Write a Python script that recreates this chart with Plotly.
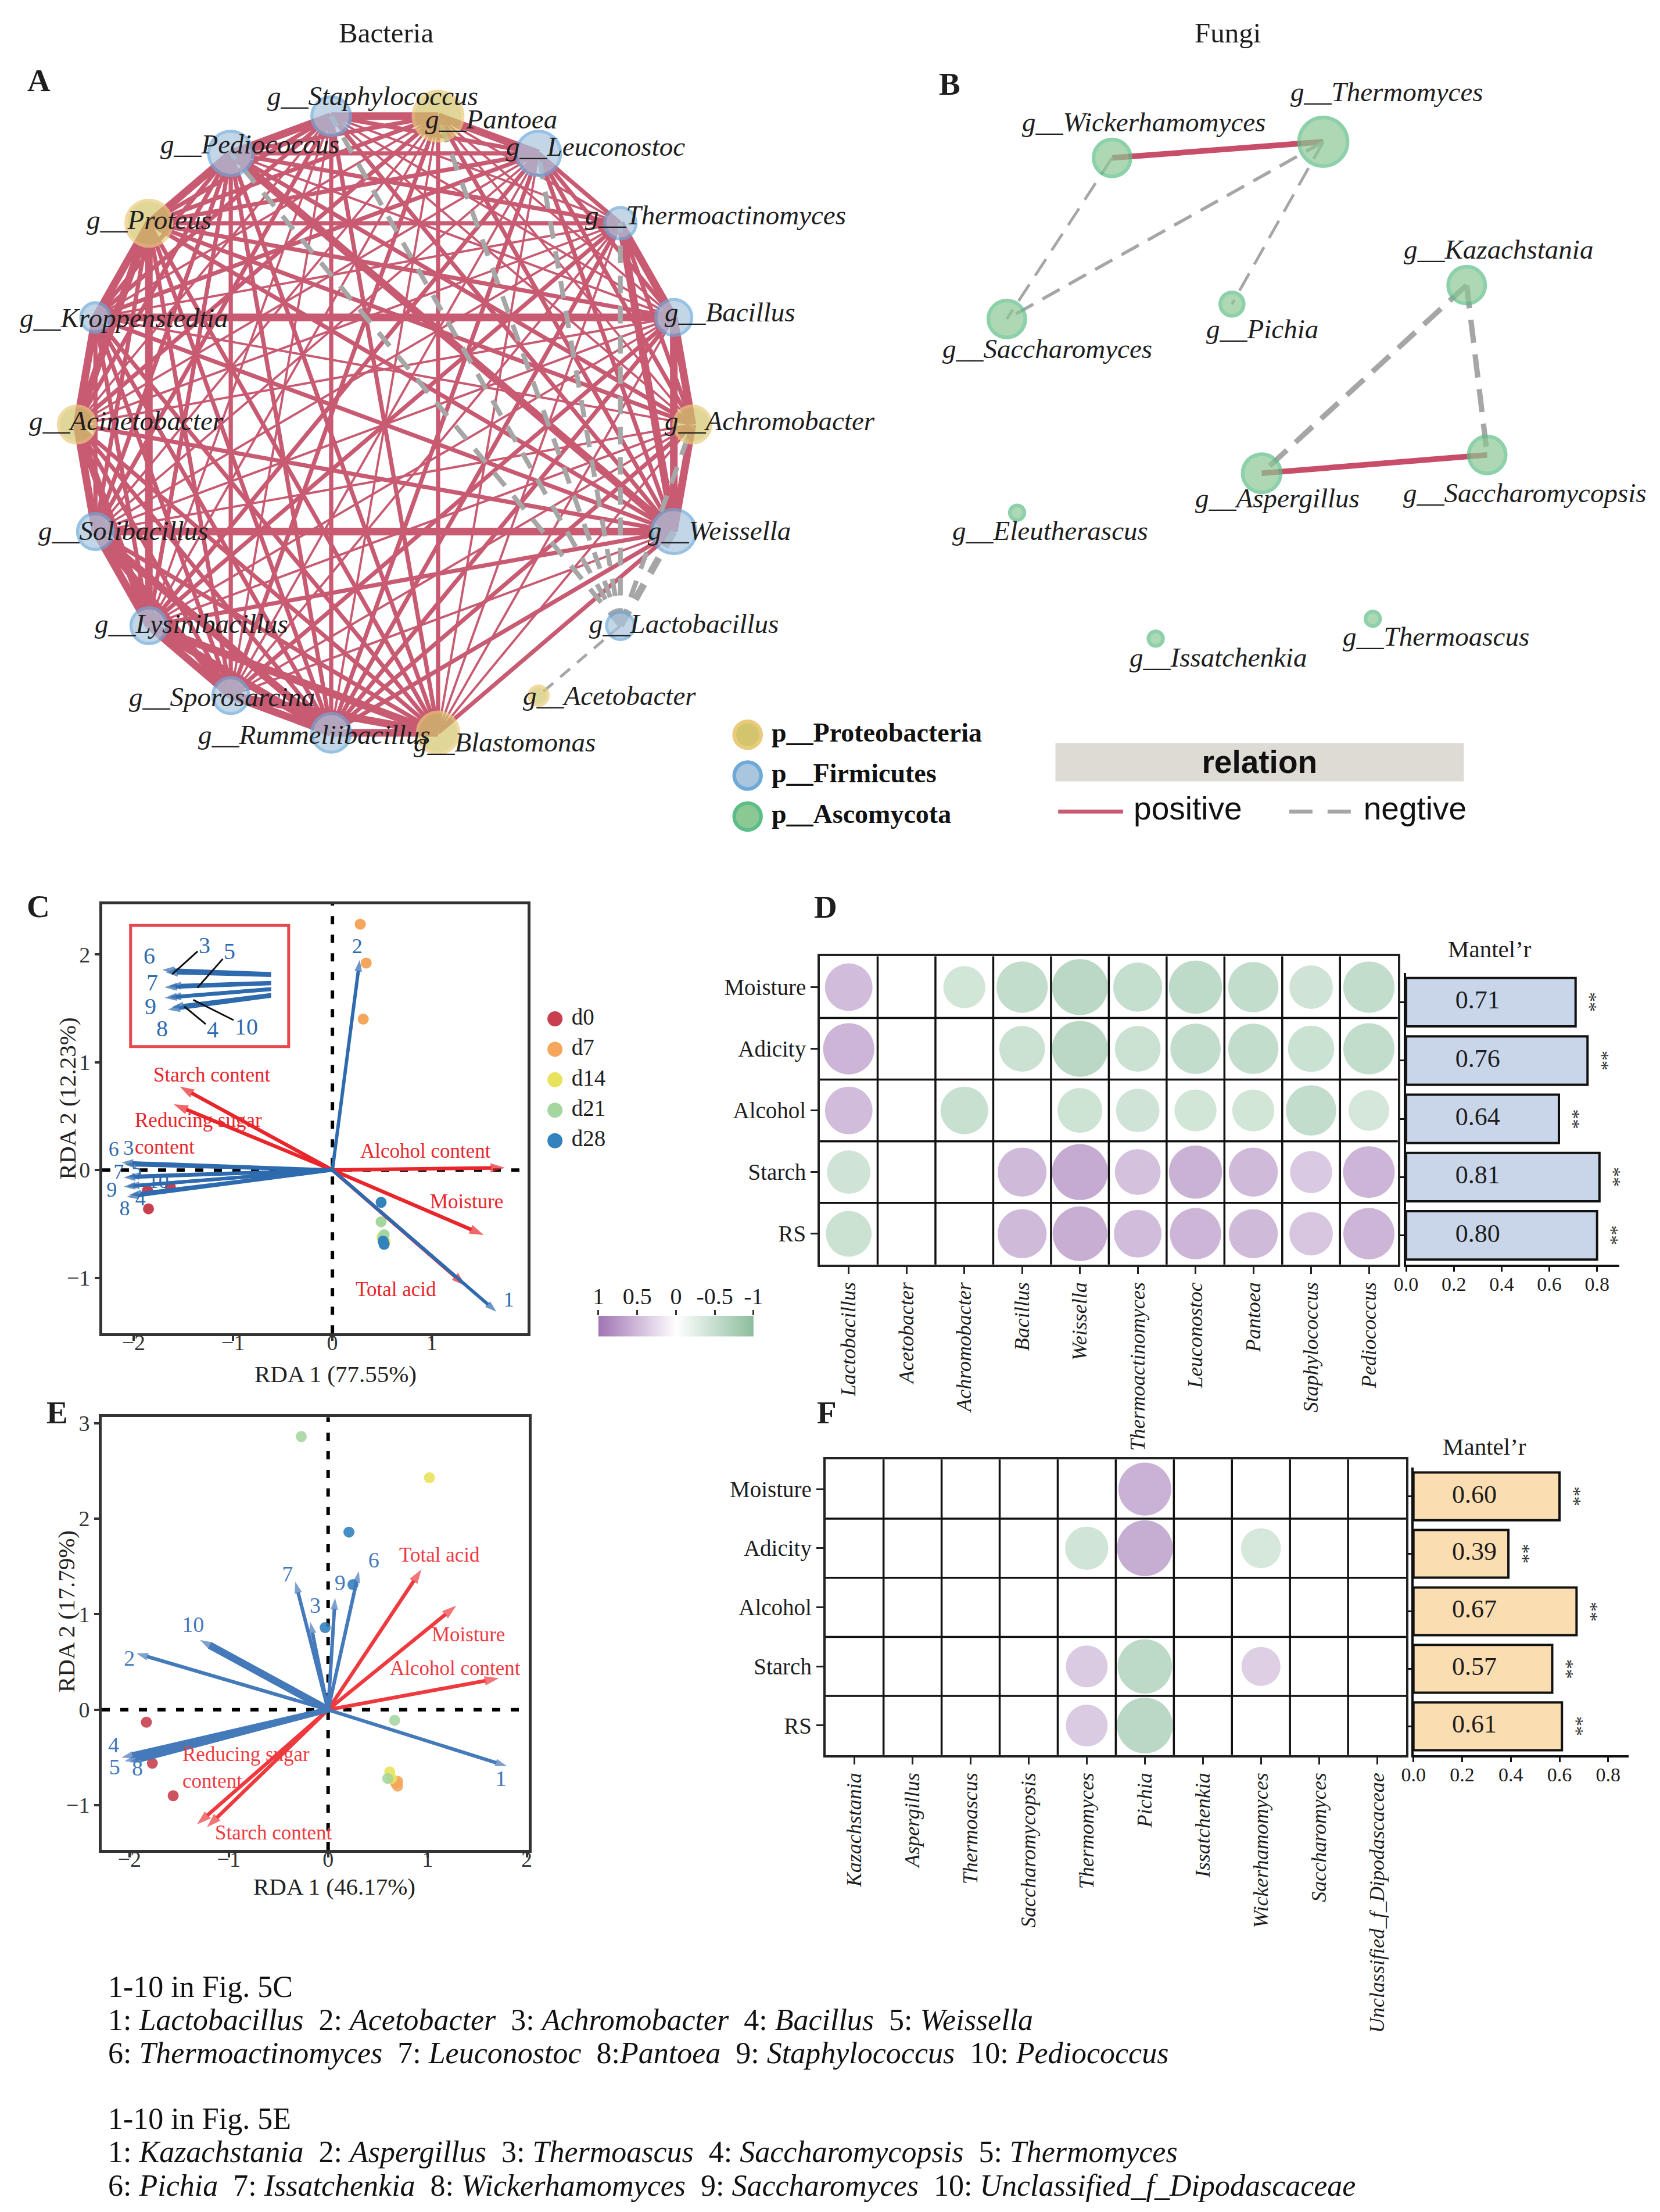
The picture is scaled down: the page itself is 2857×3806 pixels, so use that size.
import math
import plotly.graph_objects as go

# ============================ DATA ============================
# ---- A: bacterial co-occurrence network (circular layout order) ----
bac_genera = ["Achromobacter", "Bacillus", "Thermoactinomyces", "Leuconostoc", "Pantoea",
              "Staphylococcus", "Pediococcus", "Proteus", "Kroppenstedtia", "Acinetobacter",
              "Solibacillus", "Lysinibacillus", "Sporosarcina", "Rummeliibacillus", "Blastomonas",
              "Acetobacter", "Lactobacillus", "Weissella"]
bac_phylum = ["Proteobacteria", "Firmicutes", "Firmicutes", "Firmicutes", "Proteobacteria",
              "Firmicutes", "Firmicutes", "Proteobacteria", "Firmicutes", "Proteobacteria",
              "Firmicutes", "Firmicutes", "Firmicutes", "Firmicutes", "Proteobacteria",
              "Proteobacteria", "Firmicutes", "Firmicutes"]
bac_node_size = [28.4, 27.6, 24.4, 33.5, 37.4, 29.6, 33.5, 34.7, 22.9, 28.4,
                 27.6, 27.6, 27.6, 29.6, 31.5, 15.8, 21.7, 33.5]
# positive correlations among these genera, upper triangle, weight class 0-3
pos_group = ["Achromobacter", "Bacillus", "Thermoactinomyces", "Leuconostoc", "Pantoea",
             "Staphylococcus", "Pediococcus", "Proteus", "Kroppenstedtia", "Acinetobacter",
             "Solibacillus", "Lysinibacillus", "Sporosarcina", "Rummeliibacillus", "Blastomonas",
             "Weissella"]
pos_weight_rows = [
    "322112210111213",
    "32111231112213",
    "2112211121213",
    "322221121212",
    "32212112122",
    "3221211222",
    "322222223",
    "33232222",
    "3222222",
    "332222",
    "33323",
    "3332",
    "331",
    "32",
    "2",
]
neg_edges = [("Lactobacillus", "Pediococcus", 2), ("Lactobacillus", "Staphylococcus", 2),
             ("Lactobacillus", "Pantoea", 2), ("Lactobacillus", "Leuconostoc", 2),
             ("Lactobacillus", "Thermoactinomyces", 2), ("Lactobacillus", "Achromobacter", 2),
             ("Lactobacillus", "Weissella", 3), ("Lactobacillus", "Acetobacter", 1)]

# ---- B: fungal co-occurrence network ----
fun_genera = ["Wickerhamomyces", "Thermomyces", "Saccharomyces", "Pichia", "Kazachstania",
              "Aspergillus", "Saccharomycopsis", "Eleutherascus", "Issatchenkia", "Thermoascus"]
fun_layout_x = [-0.480, 0.096, -0.767, -0.153, 0.487, -0.072, 0.543, -0.739, -0.361, 0.231]
fun_layout_y = [0.688, 0.740, 0.169, 0.217, 0.278, -0.328, -0.269, -0.455, -0.861, -0.797]
fun_node_size = [28.8, 37.0, 28.8, 19.2, 28.8, 29.6, 28.8, 12.9, 12.9, 12.9]
fun_edges = [("Wickerhamomyces", "Thermomyces", "positive", 4.0),
             ("Wickerhamomyces", "Saccharomyces", "negative", 2.0),
             ("Thermomyces", "Saccharomyces", "negative", 2.3),
             ("Thermomyces", "Pichia", "negative", 2.0),
             ("Kazachstania", "Aspergillus", "negative", 3.8),
             ("Kazachstania", "Saccharomycopsis", "negative", 3.8),
             ("Aspergillus", "Saccharomycopsis", "positive", 4.0)]
phyla = ["Proteobacteria", "Firmicutes", "Ascomycota"]
relation_types = ["positive", "negtive"]

# ---- C: RDA, bacteria ----
sample_groups = ["d0", "d7", "d14", "d21", "d28"]
C_sample_x = [[-1.85, -1.86, -1.63], [0.28, 0.34, 0.31], [0.52, 0.50, 0.53], [0.49, 0.52, 0.51], [0.49, 0.52, 0.51]]
C_sample_y = [[-0.36, -0.19, -0.16], [2.28, 1.92, 1.40], [-0.65, -0.62, -0.67], [-0.48, -0.60, -0.63], [-0.30, -0.69, -0.66]]
C_species = ["Lactobacillus", "Acetobacter", "Achromobacter", "Bacillus", "Weissella",
             "Thermoactinomyces", "Leuconostoc", "Pantoea", "Staphylococcus", "Pediococcus"]
C_species_x = [1.65, 0.275, -2.09, -2.04, -2.06, -2.12, -2.10, -2.07, -2.10, -2.06]
C_species_y = [-1.315, 1.95, 0.05, -0.23, -0.06, 0.07, -0.07, -0.25, -0.155, -0.15]
env_vars = ["Starch content", "Reducing sugar content", "Alcohol content", "Moisture", "Total acid"]
C_env_x = [-1.536, -1.596, 1.735, 1.523, 1.342]
C_env_y = [0.774, 0.610, 0.021, -0.603, -1.075]
C_titles = ["RDA 1 (77.55%)", "RDA 2 (12.23%)"]

# ---- E: RDA, fungi ----
E_sample_x = [[-1.83, -1.77, -1.56], [0.70, 0.70, 0.68], [1.02, 0.62, 0.64], [-0.27, 0.67, 0.60], [0.21, 0.25, -0.03]]
E_sample_y = [[-0.13, -0.56, -0.90], [-0.75, -0.80, -0.77], [2.43, -0.65, -0.72], [2.86, -0.11, -0.72], [1.86, 1.31, 0.86]]
E_species = ["Kazachstania", "Aspergillus", "Thermoascus", "Saccharomycopsis", "Thermomyces",
             "Pichia", "Issatchenkia", "Wickerhamomyces", "Saccharomyces", "Unclassified_f_Dipodascaceae"]
E_species_x = [1.80, -1.93, -0.18, -2.08, -2.05, 0.31, -0.33, -2.00, 0.07, -1.29]
E_species_y = [-0.59, 0.59, 0.92, -0.50, -0.54, 1.45, 1.34, -0.55, 1.17, 0.73]
E_env_x = [-1.22, -1.32, 1.72, 1.29, 0.94]
E_env_y = [-1.23, -1.20, 0.33, 1.09, 1.47]
E_titles = ["RDA 1 (46.17%)", "RDA 2 (17.79%)"]

# ---- D / F: correlation heatmaps + Mantel r ----
env_rows = ["Moisture", "Adicity", "Alcohol", "Starch", "RS"]
D_genera = ["Lactobacillus", "Acetobacter", "Achromobacter", "Bacillus", "Weissella",
            "Thermoactinomyces", "Leuconostoc", "Pantoea", "Staphylococcus", "Pediococcus"]
D_r = [
    [0.68, None, -0.56, -0.76, -0.86, -0.71, -0.80, -0.74, -0.59, -0.76],
    [0.76, None, None, -0.64, -0.86, -0.64, -0.74, -0.74, -0.65, -0.76],
    [0.68, None, -0.68, None, -0.62, -0.59, -0.56, -0.56, -0.74, -0.53],
    [-0.59, None, None, 0.71, 0.86, 0.64, 0.80, 0.71, 0.56, 0.77],
    [-0.64, None, None, 0.71, 0.83, 0.68, 0.76, 0.71, 0.59, 0.76],
]
D_mantel = [0.71, 0.76, 0.64, 0.81, 0.80]
F_genera = ["Kazachstania", "Aspergillus", "Thermoascus", "Saccharomycopsis", "Thermomyces",
            "Pichia", "Issatchenkia", "Wickerhamomyces", "Saccharomyces", "Unclassified_f_Dipodascaceae"]
F_r = [
    [None, None, None, None, None, 0.79, None, None, None, None],
    [None, None, None, None, -0.58, 0.85, None, -0.51, None, None],
    [None, None, None, None, None, None, None, None, None, None],
    [None, None, None, None, 0.55, -0.82, None, 0.49, None, None],
    [None, None, None, None, 0.55, -0.85, None, None, None, None],
]
F_mantel = [0.60, 0.39, 0.67, 0.57, 0.61]
mantel_ticks = [0.0, 0.2, 0.4, 0.6, 0.8]
cbar_values = [1, 0.5, 0, -0.5, -1]

# ============================ STYLE / LAYOUT HELPERS ============================
W, H = 2857, 3806
DW, DH = 1177.0, 1568.0
S = W / DW
SERIF = "Liberation Serif, Times New Roman, serif"
SANS = "Liberation Sans, Arial, sans-serif"
INK = "#1e1e1e"
POS_RED = "#C85A72"
POS_RED_B = "#C74D69"
NEG_GRAY = "#A6A6A6"
PHY_FILL = {"Proteobacteria": "#D3C56D", "Firmicutes": "#A9C6DE", "Ascomycota": "#8CC894"}
PHY_RING = {"Proteobacteria": "#EACB7C", "Firmicutes": "#6DA9D9", "Ascomycota": "#5CBE86"}
GROUP_COL = ["#C8404F", "#F5A55C", "#E8E35C", "#A6D6A0", "#3282BD"]
CSCALE = [[0, "#8CBE9D"], [0.5, "#FFFFFF"], [1, "#A075B4"]]


def fx(X):
    return X / DW


def fy(Y):
    return 1.0 - Y / DH


def xdom(a, b):
    return [fx(a), fx(b)]


def ydom(top, bot):
    return [fy(bot), fy(top)]


def px(d):
    return d * S


fig = go.Figure()
axes = {}
annotations = []
shapes = []


def sfx(n):
    return "" if n == 1 else str(n)


def set_axes(n, xd, yd, xr, yr, xextra=None, yextra=None):
    s = sfx(n)
    xa = dict(domain=xd, range=xr, anchor="y" + s, visible=False, fixedrange=True,
              showgrid=False, zeroline=False)
    ya = dict(domain=yd, range=yr, anchor="x" + s, visible=False, fixedrange=True,
              showgrid=False, zeroline=False)
    if xextra:
        xa.update(xextra)
    if yextra:
        ya.update(yextra)
    axes["xaxis" + s] = xa
    axes["yaxis" + s] = ya


def ax(n):
    s = sfx(n)
    return dict(xaxis="x" + s, yaxis="y" + s)


def paper_text(X, Y, text, size, family=SERIF, color=INK, xanchor="center", angle=0):
    annotations.append(dict(x=fx(X), y=fy(Y), xref="paper", yref="paper", text=text,
                            showarrow=False, xanchor=xanchor, yanchor="middle", textangle=angle,
                            font=dict(family=family, size=size, color=color)))


def data_text(n, x, y, text, size, color, xanchor="center", family=SERIF):
    s = sfx(n)
    annotations.append(dict(x=x, y=y, xref="x" + s, yref="y" + s, text=text, showarrow=False,
                            xanchor=xanchor, yanchor="middle", align=xanchor if xanchor != "center" else "center",
                            font=dict(family=family, size=size, color=color)))


def arrow(n, x, y, color, width, head, clip=True):
    fig.add_trace(go.Scatter(x=[0, x], y=[0, y], mode="lines+markers",
                             line=dict(color=color, width=width),
                             marker=dict(symbol="arrow", size=[0, head], angleref="previous",
                                         color=color, line=dict(width=0)),
                             hoverinfo="skip", cliponaxis=clip, **ax(n)))


# ============================ TITLES / LETTERS ============================
paper_text(270.4, 20.1, "Bacteria", 49)
paper_text(867.2, 19.8, "Fungi", 49)
for letter, X, Y in [("A", 24.4, 53.8), ("B", 670.2, 56.4), ("C", 24.1, 639.3),
                     ("D", 582.0, 639.7), ("E", 37.3, 998.2), ("F", 583.0, 998.0)]:
    paper_text(X, Y, "<b>%s</b>" % letter, 55)

# ============================ PANEL A ============================
set_axes(1, xdom(3.2, 553.1), ydom(31.3, 575.0), [-1.22, 1.3], [-1.25, 1.2])
n_b = len(bac_genera)
bac_x = [math.cos(2 * math.pi * i / n_b) for i in range(n_b)]
bac_y = [math.sin(2 * math.pi * i / n_b) for i in range(n_b)]
bidx = {g: i for i, g in enumerate(bac_genera)}

pos_w = {1: px(1.6), 2: px(3.0), 3: px(5.4)}
edge_xy = {1: ([], []), 2: ([], []), 3: ([], [])}
for i, row in enumerate(pos_weight_rows):
    for k, ch in enumerate(row):
        w = int(ch)
        if w == 0:
            continue
        a = bidx[pos_group[i]]
        b = bidx[pos_group[i + 1 + k]]
        ex, ey = edge_xy[w]
        ex += [bac_x[a], bac_x[b], None]
        ey += [bac_y[a], bac_y[b], None]
for w in (1, 2, 3):
    ex, ey = edge_xy[w]
    fig.add_trace(go.Scatter(x=ex, y=ey, mode="lines", line=dict(color=POS_RED, width=pos_w[w]),
                             hoverinfo="skip", **ax(1)))
neg_w = {1: px(2.0), 2: px(3.4), 3: px(5.0)}
for a_name, b_name, w in neg_edges:
    a, b = bidx[a_name], bidx[b_name]
    fig.add_trace(go.Scatter(x=[bac_x[a], bac_x[b]], y=[bac_y[a], bac_y[b]], mode="lines",
                             line=dict(color=NEG_GRAY, width=neg_w[w],
                                       dash="30px,22px" if w > 1 else "22px,16px"),
                             hoverinfo="skip", **ax(1)))
for ph in phyla[:2]:
    ids = [i for i in range(n_b) if bac_phylum[i] == ph]
    fig.add_trace(go.Scatter(x=[bac_x[i] for i in ids], y=[bac_y[i] for i in ids], mode="markers",
                             marker=dict(size=[px(bac_node_size[i] - 2.2) for i in ids],
                                         color=PHY_FILL[ph],
                                         line=dict(color=PHY_RING[ph], width=px(2.2))),
                             hoverinfo="skip", cliponaxis=False, **ax(1)))
bac_label_offset = {
    "Achromobacter": (-20.6, -2.8), "Bacillus": (-7.4, -3.9), "Thermoactinomyces": (-25.9, -5.9),
    "Leuconostoc": (-23.8, -4.8), "Pantoea": (-9.8, 2.0), "Staphylococcus": (-46.3, -14.5),
    "Pediococcus": (-50.7, -6.6), "Proteus": (-45.2, -2.4), "Kroppenstedtia": (-54.5, 0.3),
    "Acinetobacter": (-34.6, -2.8), "Solibacillus": (-41.5, -0.7), "Lysinibacillus": (-39.2, -1.5),
    "Sporosarcina": (-72.8, 0.9), "Rummeliibacillus": (-95.0, 1.4), "Blastomonas": (-18.0, 6.8),
    "Acetobacter": (-12.0, -0.1), "Lactobacillus": (-22.8, -1.5), "Weissella": (-19.2, -0.7)}
for i, g in enumerate(bac_genera):
    dx, dy = bac_label_offset[g]
    annotations.append(dict(x=bac_x[i], y=bac_y[i], xref="x", yref="y", text="<i>g__%s</i>" % g,
                            showarrow=False, xanchor="left", yanchor="middle",
                            xshift=px(dx), yshift=-px(dy),
                            font=dict(family=SERIF, size=47, color=INK)))

# ============================ PANEL B ============================
set_axes(2, xdom(650, 1170), ydom(40, 480), [-1, 1], [-1, 1])
fidx = {g: i for i, g in enumerate(fun_genera)}
for a_name, b_name, sign, w in fun_edges:
    a, b = fidx[a_name], fidx[b_name]
    if sign == "positive":
        line = dict(color=POS_RED_B, width=px(w))
    else:
        line = dict(color=NEG_GRAY, width=px(w), dash="40px,20px" if w > 3 else "34px,18px")
    fig.add_trace(go.Scatter(x=[fun_layout_x[a], fun_layout_x[b]], y=[fun_layout_y[a], fun_layout_y[b]],
                             mode="lines", line=line, hoverinfo="skip", **ax(2)))
fig.add_trace(go.Scatter(x=fun_layout_x, y=fun_layout_y, mode="markers",
                         marker=dict(size=[px(s - 2.6) for s in fun_node_size], color=PHY_FILL["Ascomycota"],
                                     line=dict(color=PHY_RING["Ascomycota"], width=px(2.6))),
                         hoverinfo="skip", cliponaxis=False, **ax(2)))
fun_label_offset = {
    "Wickerhamomyces": (-64.7, -25.6), "Thermomyces": (-23.9, -35.4), "Saccharomyces": (-46.6, 20.9),
    "Pichia": (-19.2, 17.5), "Kazachstania": (-45.6, -25.2), "Aspergillus": (-48.1, 17.5),
    "Saccharomycopsis": (-60.3, 26.7), "Eleutherascus": (-46.6, 12.6), "Issatchenkia": (-19.2, 13.4),
    "Thermoascus": (-22.2, 12.6)}
for i, g in enumerate(fun_genera):
    dx, dy = fun_label_offset[g]
    annotations.append(dict(x=fun_layout_x[i], y=fun_layout_y[i], xref="x2", yref="y2",
                            text="<i>g__%s</i>" % g, showarrow=False, xanchor="left", yanchor="middle",
                            xshift=px(dx), yshift=-px(dy),
                            font=dict(family=SERIF, size=47, color=INK)))

# ---- phylum legend ----
set_axes(11, xdom(516.8, 716.8), ydom(503, 590), [0, 200], [2.5, -0.5])
fig.add_trace(go.Scatter(x=[10] * 3, y=list(range(3)), mode="markers",
                         marker=dict(size=px(19), color=[PHY_FILL[p] for p in phyla],
                                     line=dict(color=[PHY_RING[p] for p in phyla], width=px(2.6))),
                         hoverinfo="skip", cliponaxis=False, **ax(11)))
fig.add_trace(go.Scatter(x=[27] * 3, y=list(range(3)), mode="text",
                         text=["<b>p__%s</b>" % p for p in phyla], textposition="middle right",
                         textfont=dict(family=SERIF, size=46, color="#111"),
                         hoverinfo="skip", cliponaxis=False, **ax(11)))

# ---- relation legend ----
annotations.append(dict(x=fx(889.75), y=fy(537.1), xref="paper", yref="paper", text="<b>relation</b>",
                        showarrow=False, xanchor="center", yanchor="middle", width=px(289), height=px(26.7),
                        bgcolor="#DEDBD5", borderpad=0, font=dict(family=SANS, size=55, color="#111")))
set_axes(12, xdom(745, 1045), ydom(560, 584), [0, 300], [-1, 1])
fig.add_trace(go.Scatter(x=[2, 48], y=[0, 0], mode="lines", line=dict(color=POS_RED, width=px(2.8)),
                         hoverinfo="skip", **ax(12)))
fig.add_trace(go.Scatter(x=[165.8, 210.2], y=[0, 0], mode="lines",
                         line=dict(color=NEG_GRAY, width=px(2.8), dash="40px,26px"),
                         hoverinfo="skip", **ax(12)))
fig.add_trace(go.Scatter(x=[55.5, 218.5], y=[0, 0], mode="text", text=relation_types,
                         textposition="middle right", textfont=dict(family=SANS, size=55, color="#111"),
                         hoverinfo="skip", cliponaxis=False, **ax(12)))


# ============================ RDA PANELS ============================
def rda_frame(n, box, xr, yr, xticks, yticks):
    X0, X1, Y0, Y1 = box
    common = dict(visible=True, showline=True, mirror=True, linecolor="#333", linewidth=5,
                  ticks="outside", ticklen=8, tickwidth=4, tickcolor="#333",
                  tickfont=dict(family=SERIF, size=38, color="#333"), showgrid=False, zeroline=False)
    xe = dict(common)
    xe.update(tickmode="array", tickvals=xticks, ticklabelstandoff=-30)
    ye = dict(common)
    ye.update(tickmode="array", tickvals=yticks)
    set_axes(n, xdom(X0, X1), ydom(Y0, Y1), xr, yr, xe, ye)
    s = sfx(n)
    shapes.append(dict(type="line", xref="x" + s, yref="y" + s + " domain", x0=0, x1=0, y0=0, y1=1,
                       line=dict(color="black", width=6, dash="14px,18px"), layer="below"))
    shapes.append(dict(type="line", xref="x" + s + " domain", yref="y" + s, x0=0, x1=1, y0=0, y1=0,
                       line=dict(color="black", width=6, dash="14px,18px"), layer="below"))


def samples(n, sx, sy, opacity=1.0):
    for g in range(len(sample_groups)):
        fig.add_trace(go.Scatter(x=sx[g], y=sy[g], mode="markers",
                                 marker=dict(size=19, color=GROUP_COL[g], opacity=opacity, line=dict(width=0)),
                                 hoverinfo="skip", **ax(n)))


# ---------------- C ----------------
C_BLUE = "#2E6AAE"
C_RED = "#E8262B"
rda_frame(3, (69.2, 370.7, 637.6, 941.9), [-2.315, 1.962], [-1.516, 2.467], [-2, -1, 0, 1], [-1, 0, 1, 2])
samples(3, C_sample_x, C_sample_y)
C_sp_label_xy = [(1.775, -1.22), (0.25, 2.06), (-2.05, 0.19), (-1.93, -0.28), (-1.97, -0.01),
                 (-2.20, 0.18), (-2.15, -0.03), (-2.09, -0.37), (-2.22, -0.20), (-1.75, -0.12)]
fig.add_trace(go.Scatter(x=[p[0] for p in C_sp_label_xy], y=[p[1] for p in C_sp_label_xy], mode="text",
                         text=[str(i + 1) for i in range(len(C_species))], textposition="middle center",
                         textfont=dict(family=SERIF, size=36, color=C_BLUE), hoverinfo="skip", **ax(3)))
for x, y in zip(C_env_x, C_env_y):
    arrow(3, x, y, C_RED, px(2.6), 26)
for x, y in zip(C_species_x, C_species_y):
    arrow(3, x, y, C_BLUE, px(2.4), 21)
C_env_label = {"Starch content": ("Starch content", -1.214, 0.88, "center"),
               "Reducing sugar content": ("Reducing sugar<br>content", -1.999, 0.34, "left"),
               "Alcohol content": ("Alcohol content", 0.94, 0.177, "center"),
               "Moisture": ("Moisture", 1.348, -0.294, "center"),
               "Total acid": ("Total acid", 0.638, -1.105, "center")}
for v in env_vars:
    t, x, y, xa = C_env_label[v]
    data_text(3, x, y, t, 35, C_RED, xa)
# inset (zoom of the crowded arrow bundle)
shapes.append(dict(type="rect", xref="x3", yref="y3", x0=-2.03, x1=-0.44, y0=1.145, y1=2.27,
                   line=dict(color="#E8474C", width=5), fillcolor="rgba(0,0,0,0)"))
set_axes(4, xdom(88.2, 188.9), ydom(652.7, 738.3), [-2.414, -1.157], [-0.543, 0.427])
for x, y in zip(C_species_x[2:], C_species_y[2:]):
    arrow(4, x, y, C_BLUE, px(2.6), 22)
inset_labels = {"6": (-2.236, 0.185), "3": (-1.748, 0.268), "5": (-1.525, 0.219), "7": (-2.21, -0.030),
                "9": (-2.222, -0.225), "8": (-2.12, -0.400), "4": (-1.676, -0.41), "10": (-1.378, -0.384)}
inset_leader = {"3": (-2.032, 0.034), "5": (-1.809, -0.073), "10": (-1.846, -0.171), "4": (-1.925, -0.224)}
for lab, (lx, ly) in inset_labels.items():
    if lab in inset_leader:
        tx, ty = inset_leader[lab]
        annotations.append(dict(x=tx, y=ty, ax=lx, ay=ly, xref="x4", yref="y4", axref="x4", ayref="y4",
                                text=lab, showarrow=True, arrowhead=0, arrowwidth=3, arrowcolor="#111",
                                standoff=0, font=dict(family=SERIF, size=40, color=C_BLUE)))
    else:
        data_text(4, lx, ly, lab, 40, C_BLUE)
paper_text(234.8, 970.5, C_titles[0], 41, color="#222")
paper_text(44.3, 775.3, C_titles[1], 41, color="#222", angle=-90)

# ---- sample legend ----
set_axes(13, xdom(380, 480), ydom(708.1, 816.1), [0, 100], [4.5, -0.5])
fig.add_trace(go.Scatter(x=[10.2] * 5, y=list(range(5)), mode="markers",
                         marker=dict(size=26, color=GROUP_COL, line=dict(width=0)),
                         hoverinfo="skip", cliponaxis=False, **ax(13)))
fig.add_trace(go.Scatter(x=[22.0] * 5, y=list(range(5)), mode="text", text=sample_groups,
                         textposition="middle right", textfont=dict(family=SERIF, size=39, color=INK),
                         hoverinfo="skip", cliponaxis=False, **ax(13)))

# ---- colour bar ----
set_axes(10, xdom(421, 531), ydom(929.4, 944.1), [0, 4], [-0.5, 0.5],
         xextra=dict(visible=True, side="top", tickmode="array", tickvals=list(range(5)),
                     ticktext=["%g" % v if v >= 0 else "-%g" % abs(v) for v in cbar_values],
                     ticks="outside", ticklen=9, tickwidth=3, tickcolor="#333", showline=False,
                     ticklabelstandoff=-6, tickfont=dict(family=SERIF, size=40, color=INK)))
fig.add_trace(go.Heatmap(z=[cbar_values], x=list(range(5)), y=[0], colorscale=CSCALE, zmin=-1, zmax=1,
                         zsmooth="best", showscale=False, hoverinfo="skip", **ax(10)))

# ---------------- E ----------------
E_BLUE = "#4479BA"
E_RED = "#EE3A3F"
rda_frame(7, (68.8, 371.8, 1001.3, 1308.0), [-2.28, 2.023], [-1.467, 3.063], [-2, -1, 0, 1, 2], [-1, 0, 1, 2, 3])
samples(7, E_sample_x, E_sample_y, 0.9)
E_sp_width = [px(2.5), px(2.5), px(2.5), px(4.0), px(4.0), px(2.5), px(2.5), px(4.0), px(2.5), px(5.2)]
for x, y in zip(E_env_x, E_env_y):
    arrow(7, x, y, E_RED, px(2.6), 26)
for x, y, w in zip(E_species_x, E_species_y, E_sp_width):
    arrow(7, x, y, E_BLUE, w, 21)
E_sp_label_xy = [(1.74, -0.74), (-2.0, 0.52), (-0.13, 1.07), (-2.16, -0.39), (-2.15, -0.62),
                 (0.46, 1.55), (-0.41, 1.40), (-1.92, -0.63), (0.12, 1.31), (-1.36, 0.87)]
fig.add_trace(go.Scatter(x=[p[0] for p in E_sp_label_xy], y=[p[1] for p in E_sp_label_xy], mode="text",
                         text=[str(i + 1) for i in range(len(E_species))], textposition="middle center",
                         textfont=dict(family=SERIF, size=38, color=E_BLUE), hoverinfo="skip", **ax(7)))
E_env_label = {"Starch content": ("Starch content", -0.55, -1.29, "center"),
               "Reducing sugar content": ("Reducing sugar<br>content", -1.476, -0.607, "left"),
               "Alcohol content": ("Alcohol content", 1.28, 0.436, "center"),
               "Moisture": ("Moisture", 1.41, 0.785, "center"),
               "Total acid": ("Total acid", 1.12, 1.62, "center")}
for v in env_vars:
    t, x, y, xa = E_env_label[v]
    data_text(7, x, y, t, 35, E_RED, xa)
paper_text(233.9, 1334.0, E_titles[0], 41, color="#222")
paper_text(43.4, 1139.0, E_titles[1], 41, color="#222", angle=-90)


# ============================ HEATMAPS + MANTEL BARS ============================
def corr_panel(nh, nb, genera, rvals, mantel, bar_fill, hbox, bbox, bmax, vx, title_xy):
    X0, X1, Y0, Y1 = hbox
    ncol, nrow = len(genera), len(env_rows)
    cell_w = px((X1 - X0) / ncol)
    frame = dict(visible=True, showline=True, mirror=True, linecolor="#222", linewidth=4,
                 tickmode="array", ticks="outside", ticklen=12, tickwidth=3, tickcolor="#222")
    xe = dict(frame)
    xe.update(tickvals=list(range(1, ncol + 1)), ticktext=["<i>%s</i>" % g for g in genera], tickangle=-90,
              tickfont=dict(family=SERIF, size=36, color=INK))
    ye = dict(frame)
    ye.update(tickvals=list(range(1, nrow + 1)), ticktext=env_rows,
              tickfont=dict(family=SERIF, size=39, color=INK))
    set_axes(nh, xdom(X0, X1), ydom(Y0, Y1), [0.5, ncol + 0.5], [nrow + 0.5, 0.5], xe, ye)
    s = sfx(nh)
    for k in range(1, ncol):
        shapes.append(dict(type="line", xref="x" + s, yref="y" + s + " domain", x0=k + 0.5, x1=k + 0.5,
                           y0=0, y1=1, line=dict(color="#111", width=3.5), layer="below"))
    for k in range(1, nrow):
        shapes.append(dict(type="line", xref="x" + s + " domain", yref="y" + s, x0=0, x1=1,
                           y0=k + 0.5, y1=k + 0.5, line=dict(color="#111", width=3.5), layer="below"))
    xs, ys, cs, ss = [], [], [], []
    for i in range(nrow):
        for j in range(ncol):
            v = rvals[i][j]
            if v is None:
                continue
            xs.append(j + 1)
            ys.append(i + 1)
            cs.append(v)
            ss.append(cell_w * (0.28 + 0.8 * abs(v)))
    fig.add_trace(go.Scatter(x=xs, y=ys, mode="markers",
                             marker=dict(size=ss, color=cs, colorscale=CSCALE, cmin=-1, cmax=1, line=dict(width=0)),
                             hoverinfo="skip", **ax(nh)))
    BX0, BX1, BY0, BY1 = bbox
    bx = dict(visible=True, showline=True, linecolor="#111", linewidth=4, tickmode="array",
              tickvals=mantel_ticks, ticktext=["%.1f" % t for t in mantel_ticks], ticks="outside",
              ticklen=8, tickwidth=3, tickcolor="#111", ticklabelstandoff=-8,
              tickfont=dict(family=SERIF, size=34, color=INK))
    by = dict(visible=True, showline=True, linecolor="#111", linewidth=4, tickmode="array",
              tickvals=list(range(1, nrow + 1)), showticklabels=False, ticks="outside", ticklen=6,
              tickwidth=3, tickcolor="#111")
    set_axes(nb, xdom(BX0, BX1), ydom(BY0, BY1), [0, bmax], [nrow + 0.5, 0.5], bx, by)
    fig.add_trace(go.Bar(x=mantel, y=list(range(1, nrow + 1)), orientation="h", width=0.83,
                         marker=dict(color=bar_fill, line=dict(color="#111", width=4)),
                         hoverinfo="skip", **ax(nb)))
    fig.add_trace(go.Scatter(x=[vx] * nrow, y=list(range(1, nrow + 1)), mode="text",
                             text=["%.2f" % v for v in mantel], textposition="middle center",
                             textfont=dict(family=SERIF, size=44, color=INK), hoverinfo="skip", **ax(nb)))
    sb = sfx(nb)
    for i, v in enumerate(mantel):
        annotations.append(dict(x=v + 0.06, y=i + 1, xref="x" + sb, yref="y" + sb, text="**",
                                showarrow=False, textangle=90, xanchor="center", yanchor="middle",
                                font=dict(family=SERIF, size=34, color="#333")))
    paper_text(title_xy[0], title_xy[1], "Mantel\u2019r", 41)


corr_panel(5, 6, D_genera, D_r, D_mantel, "#C9D6EA", (578, 987.8, 674.6, 893.1),
           (993.7, 1145.0, 686.5, 893.1), 0.894, 0.30, (1053.1, 669.6))
corr_panel(8, 9, F_genera, F_r, F_mantel, "#FADDB0", (582, 993.7, 1031.3, 1240.8),
           (998.9, 1151.3, 1037.0, 1240.8), 0.883, 0.25, (1049.2, 1022.0))

# ============================ FOOTNOTE TEXT ============================
GAP = "\u00a0\u00a0"


def key_lines(species, tight=()):
    parts = []
    for i, g in enumerate(species):
        sep = ":" if (i + 1) in tight else ": "
        parts.append("%d%s<i>%s</i>" % (i + 1, sep, g))
    return GAP.join(parts[:5]), GAP.join(parts[5:])


c1, c2 = key_lines(C_species, tight=(8,))
e1, e2 = key_lines(E_species)
for Y, t in [(1405, "1-10 in Fig. 5C"), (1428.5, c1), (1452, c2),
             (1498.5, "1-10 in Fig. 5E"), (1522, e1), (1546, e2)]:
    paper_text(72.5, Y, t, 52, xanchor="left", color="#111")

# ============================ FINAL LAYOUT ============================
fig.update_layout(width=W, height=H, autosize=False, margin=dict(l=0, r=0, t=0, b=0),
                  template="none", paper_bgcolor="white", plot_bgcolor="rgba(0,0,0,0)",
                  showlegend=False, hovermode=False, annotations=annotations, shapes=shapes,
                  font=dict(family=SERIF, color=INK), **axes)
fig.write_html("out.html")
